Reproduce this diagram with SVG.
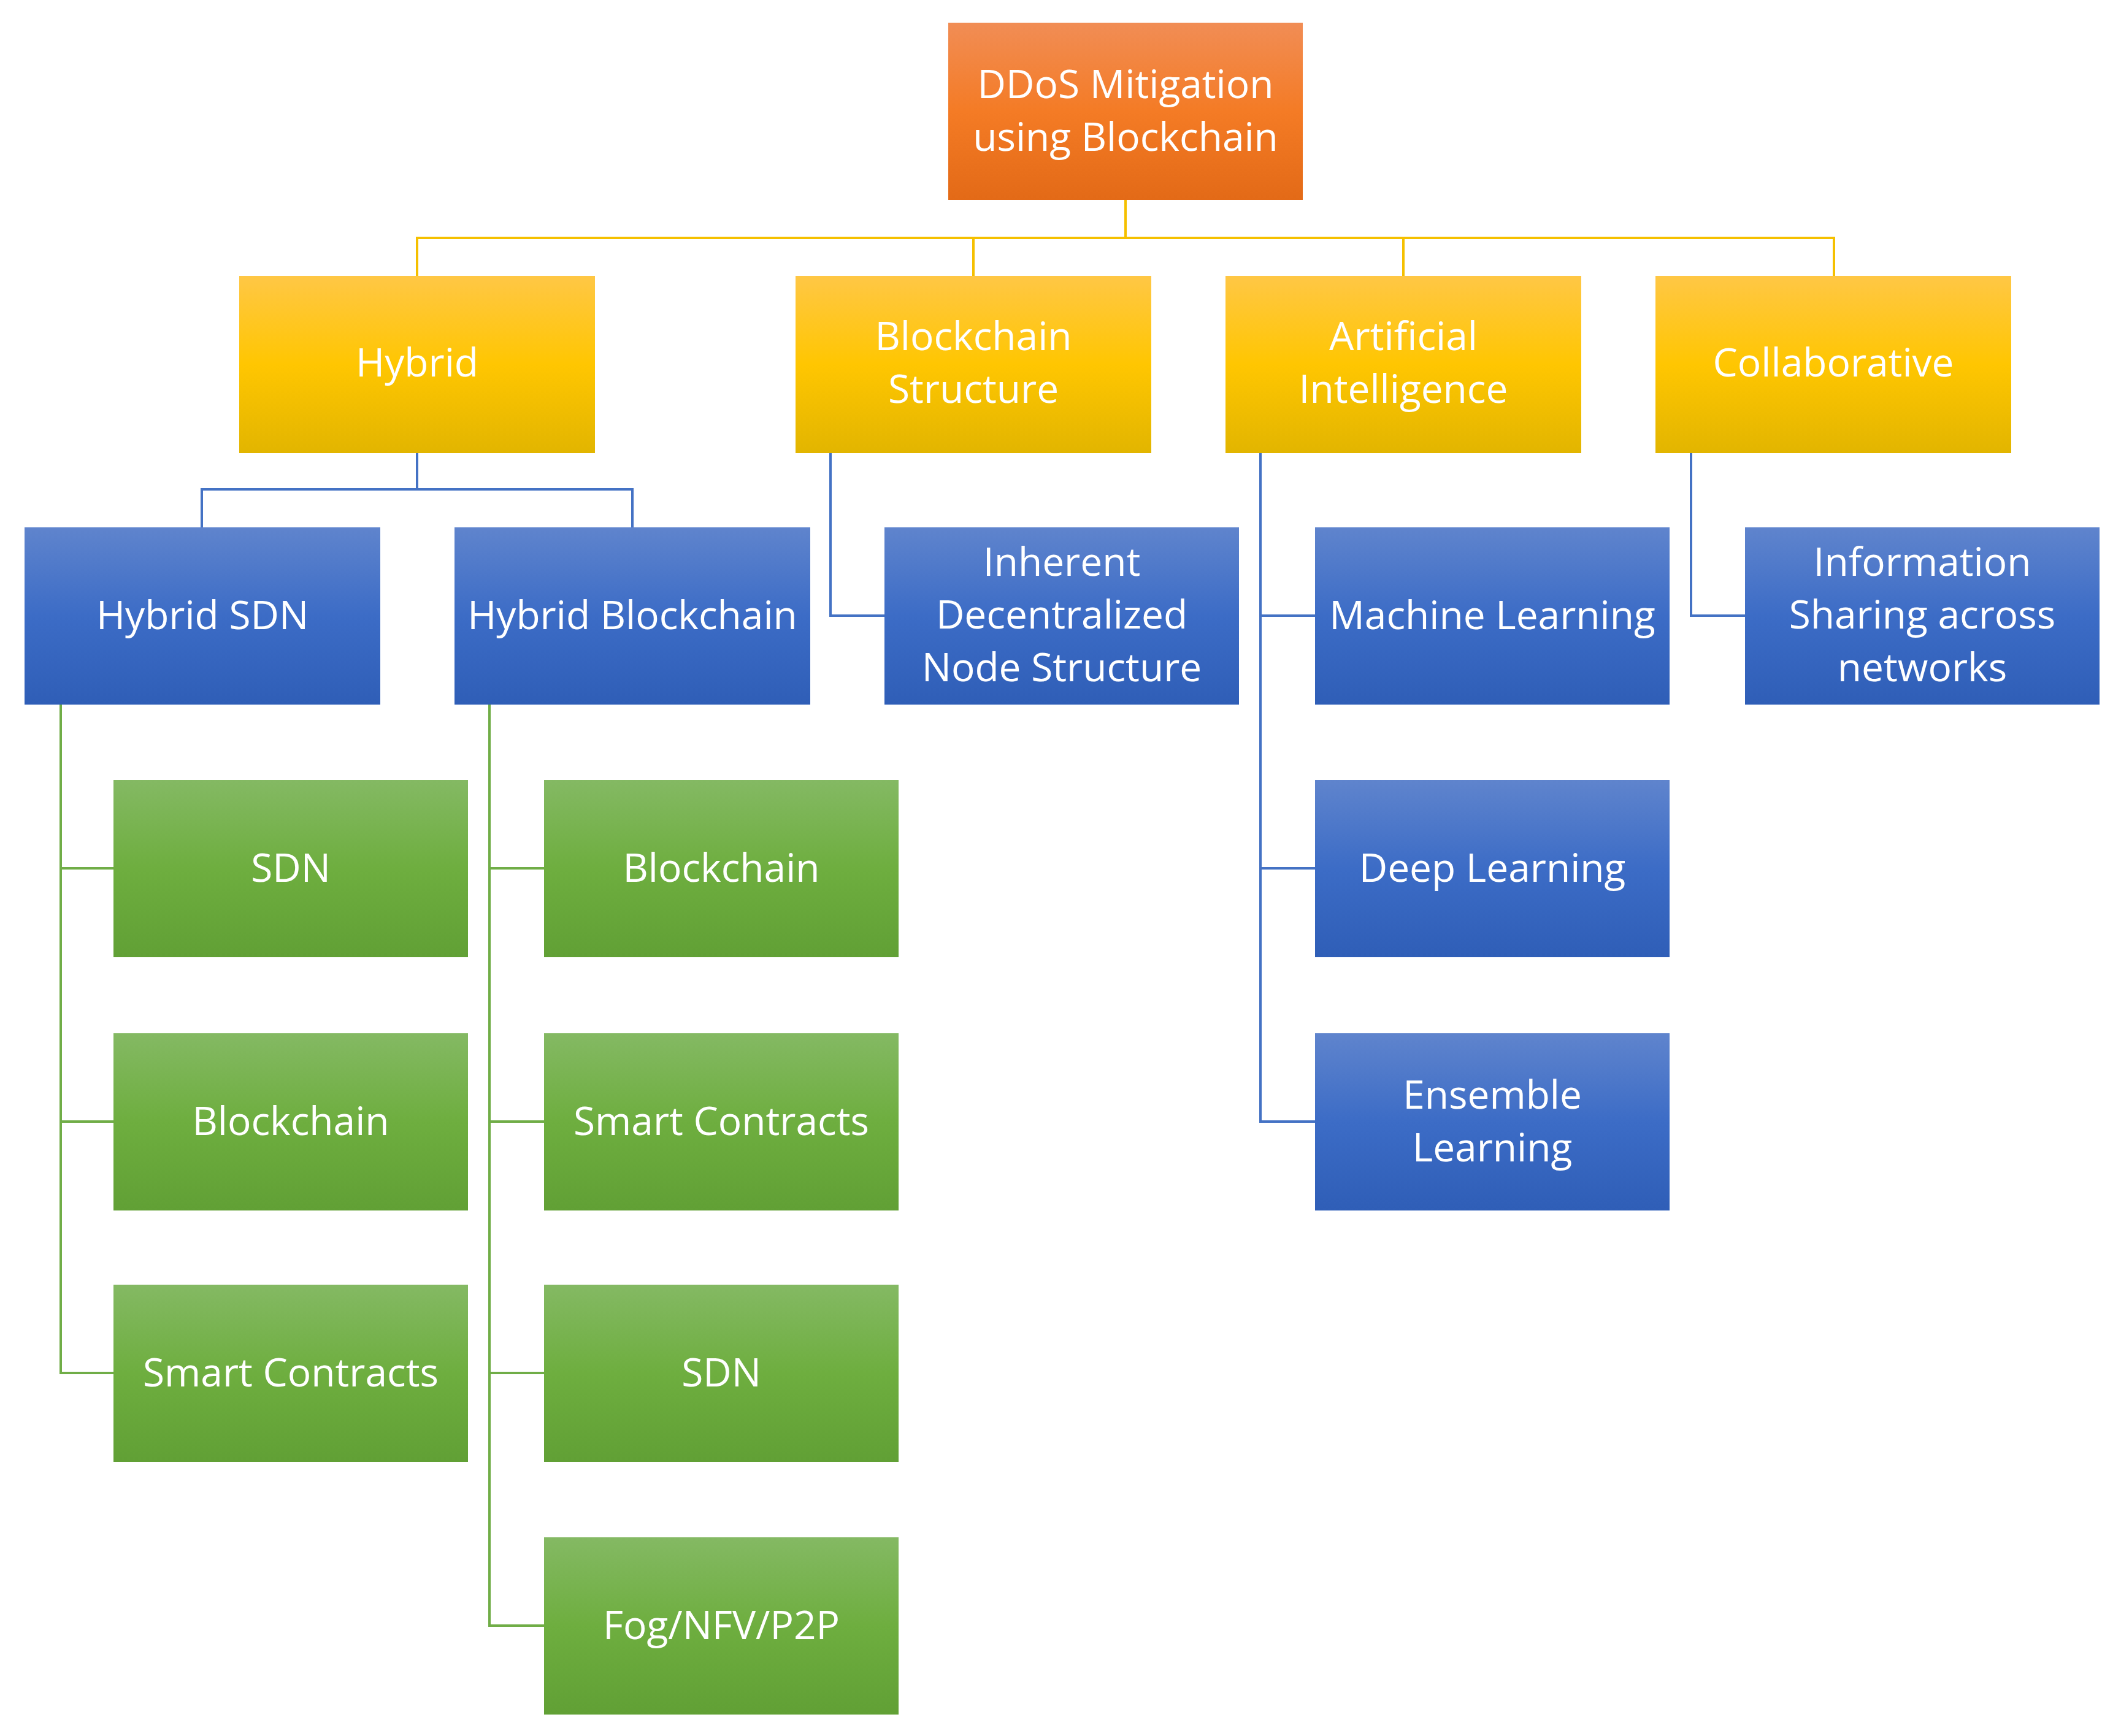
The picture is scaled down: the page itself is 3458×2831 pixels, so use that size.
<svg xmlns="http://www.w3.org/2000/svg" width="3458" height="2831" viewBox="0 0 3458 2831">
<defs>
<linearGradient id="gO" x1="0" y1="0" x2="0" y2="1"><stop offset="0" stop-color="#F18D55"/><stop offset="0.5" stop-color="#F47B25"/><stop offset="1" stop-color="#E36A17"/></linearGradient>
<linearGradient id="gY" x1="0" y1="0" x2="0" y2="1"><stop offset="0" stop-color="#FFC745"/><stop offset="0.5" stop-color="#FFC601"/><stop offset="1" stop-color="#E2B500"/></linearGradient>
<linearGradient id="gB" x1="0" y1="0" x2="0" y2="1"><stop offset="0" stop-color="#5F84CD"/><stop offset="0.5" stop-color="#3C6CC6"/><stop offset="1" stop-color="#2F5EB7"/></linearGradient>
<linearGradient id="gG" x1="0" y1="0" x2="0" y2="1"><stop offset="0" stop-color="#84B963"/><stop offset="0.5" stop-color="#6EAE3F"/><stop offset="1" stop-color="#61A035"/></linearGradient>
</defs>
<style>
text{font-family:"Open Sans","Liberation Sans",sans-serif;font-size:64px;fill:#fff;text-anchor:middle}
.o{fill:url(#gO)}.y{fill:url(#gY)}.b{fill:url(#gB)}.g{fill:url(#gG)}
.cy{stroke:#F5C000;stroke-width:4;fill:none}.cb{stroke:#4472C4;stroke-width:4;fill:none}.cg{stroke:#70AD47;stroke-width:4;fill:none}
</style>
<rect width="3458" height="2831" fill="#fff"/>
<g id="connectors">
<path class="cy" d="M1835 326V388M680 450V388H2990V450M1587 388V450M2288 388V450"/>
<path class="cb" d="M680 739V798M329 860V798H1031V860M1354 739V1004H1442M2055 739V1829H2144M2055 1004H2144M2055 1416H2144M2757 739V1004H2845"/>
<path class="cg" d="M99 1149V2239H185M99 1416H185M99 1829H185M798 1149V2651H887M798 1416H887M798 1829H887M798 2239H887"/>
</g>
<g id="root"><rect class="o" x="1546" y="37" width="578" height="289"/><text x="1835" y="160">DDoS Mitigation</text><text x="1835" y="246">using Blockchain</text></g>
<g id="hybrid"><rect class="y" x="390" y="450" width="580" height="289"/><text x="680" y="614">Hybrid</text></g>
<g id="bstruct"><rect class="y" x="1297" y="450" width="580" height="289"/><text x="1587" y="571">Blockchain</text><text x="1587" y="657">Structure</text></g>
<g id="ai"><rect class="y" x="1998" y="450" width="580" height="289"/><text x="2288" y="571">Artificial</text><text x="2288" y="657">Intelligence</text></g>
<g id="collab"><rect class="y" x="2699" y="450" width="580" height="289"/><text x="2989" y="614">Collaborative</text></g>
<g id="hsdn"><rect class="b" x="40" y="860" width="580" height="289"/><text x="330" y="1026">Hybrid SDN</text></g>
<g id="hbc"><rect class="b" x="741" y="860" width="580" height="289"/><text x="1031" y="1026">Hybrid Blockchain</text></g>
<g id="inherent"><rect class="b" x="1442" y="860" width="578" height="289"/><text x="1731" y="939">Inherent</text><text x="1731" y="1025">Decentralized</text><text x="1731" y="1111">Node Structure</text></g>
<g id="ml"><rect class="b" x="2144" y="860" width="578" height="289"/><text x="2433" y="1026">Machine Learning</text></g>
<g id="info"><rect class="b" x="2845" y="860" width="578" height="289"/><text x="3134" y="939">Information</text><text x="3134" y="1025">Sharing across</text><text x="3134" y="1111">networks</text></g>
<g id="dl"><rect class="b" x="2144" y="1272" width="578" height="289"/><text x="2433" y="1438">Deep Learning</text></g>
<g id="el"><rect class="b" x="2144" y="1685" width="578" height="289"/><text x="2433" y="1808">Ensemble</text><text x="2433" y="1894">Learning</text></g>
<g id="l1"><rect class="g" x="185" y="1272" width="578" height="289"/><text x="474" y="1438">SDN</text></g>
<g id="l2"><rect class="g" x="185" y="1685" width="578" height="289"/><text x="474" y="1851">Blockchain</text></g>
<g id="l3"><rect class="g" x="185" y="2095" width="578" height="289"/><text x="474" y="2261">Smart Contracts</text></g>
<g id="r1"><rect class="g" x="887" y="1272" width="578" height="289"/><text x="1176" y="1438">Blockchain</text></g>
<g id="r2"><rect class="g" x="887" y="1685" width="578" height="289"/><text x="1176" y="1851">Smart Contracts</text></g>
<g id="r3"><rect class="g" x="887" y="2095" width="578" height="289"/><text x="1176" y="2261">SDN</text></g>
<g id="r4"><rect class="g" x="887" y="2507" width="578" height="289"/><text x="1176" y="2673">Fog/NFV/P2P</text></g>
</svg>
